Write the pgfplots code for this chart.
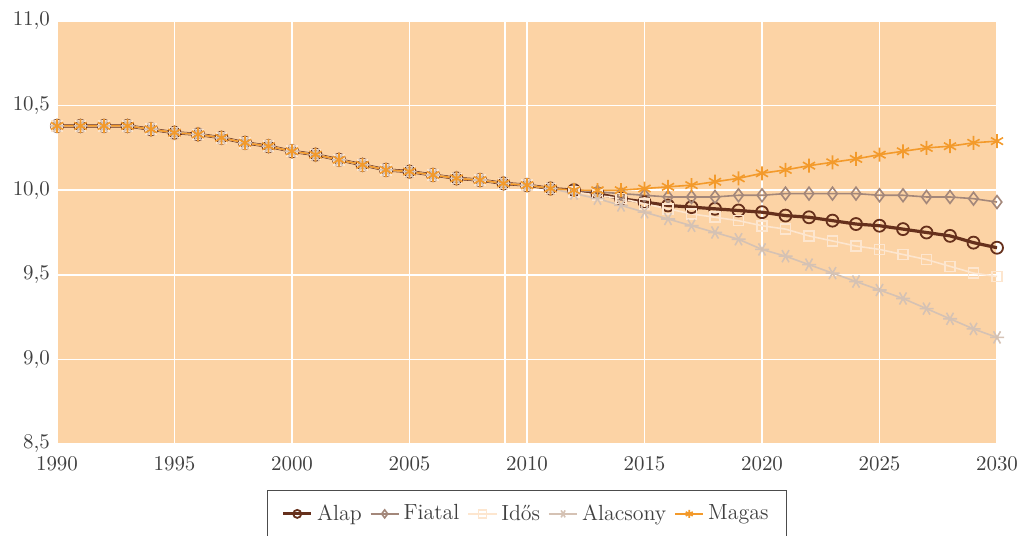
\documentclass[border=0pt]{standalone}
\usepackage{fontspec}
\usepackage{pgfplots}
\usepackage{pgfplotstable}
\pgfplotsset{compat=1.18}

\definecolor{bgfill}{HTML}{FCD3A5}
\definecolor{alapc}{HTML}{66301C}
\definecolor{fiatalc}{HTML}{A3877A}
\definecolor{idosc}{HTML}{FDE6CF}
\definecolor{alacsc}{HTML}{D5C2B4}
\definecolor{magasc}{HTML}{F39A2B}
\definecolor{txt}{HTML}{404040}

% year, then the five scenarios (identical up to 2011)
\pgfplotstableread{
year alap fiatal idos alacsony magas
1990 10.38 10.38 10.38 10.38 10.38
1991 10.38 10.38 10.38 10.38 10.38
1992 10.38 10.38 10.38 10.38 10.38
1993 10.38 10.38 10.38 10.38 10.38
1994 10.36 10.36 10.36 10.36 10.36
1995 10.34 10.34 10.34 10.34 10.34
1996 10.33 10.33 10.33 10.33 10.33
1997 10.31 10.31 10.31 10.31 10.31
1998 10.28 10.28 10.28 10.28 10.28
1999 10.26 10.26 10.26 10.26 10.26
2000 10.23 10.23 10.23 10.23 10.23
2001 10.21 10.21 10.21 10.21 10.21
2002 10.18 10.18 10.18 10.18 10.18
2003 10.15 10.15 10.15 10.15 10.15
2004 10.12 10.12 10.12 10.12 10.12
2005 10.11 10.11 10.11 10.11 10.11
2006 10.09 10.09 10.09 10.09 10.09
2007 10.07 10.07 10.07 10.07 10.07
2008 10.06 10.06 10.06 10.06 10.06
2009 10.04 10.04 10.04 10.04 10.04
2010 10.03 10.03 10.03 10.03 10.03
2011 10.01 10.01 10.01 10.01 10.01
2012 10.00 10.00 9.99 9.98 10.00
2013 9.98 9.99 9.97 9.95 10.00
2014 9.95 9.98 9.95 9.91 10.00
2015 9.93 9.97 9.92 9.87 10.01
2016 9.91 9.96 9.89 9.83 10.02
2017 9.90 9.96 9.86 9.79 10.03
2018 9.89 9.96 9.84 9.75 10.05
2019 9.88 9.97 9.82 9.71 10.07
2020 9.87 9.97 9.79 9.65 10.10
2021 9.85 9.98 9.77 9.61 10.12
2022 9.84 9.98 9.73 9.56 10.145
2023 9.82 9.98 9.70 9.51 10.165
2024 9.80 9.98 9.67 9.46 10.185
2025 9.79 9.97 9.65 9.41 10.21
2026 9.77 9.97 9.62 9.36 10.23
2027 9.75 9.96 9.59 9.30 10.25
2028 9.73 9.96 9.55 9.24 10.26
2029 9.69 9.95 9.51 9.18 10.28
2030 9.66 9.93 9.49 9.13 10.29
}\data

\begin{document}
\begin{tikzpicture}
\useasboundingbox (-28.5bp,-46bp) rectangle (482.5bp,222bp);
\begin{axis}[
  at={(0,0)}, anchor=south west,
  scale only axis, width=470bp, height=211.5bp,
  xmin=1990, xmax=2030, ymin=8.5, ymax=11,
  axis background/.style={fill=bgfill},
  axis line style={draw=none},
  tick style={draw=none},
  xtick={1990,1995,2000,2005,2010,2015,2020,2025,2030},
  ytick={8.5,9,9.5,10,10.5,11},
  grid=major, major grid style={white, line width=0.8bp},
  tick label style={font=\fontsize{10.5}{12}\selectfont, text=txt},
  xticklabel style={/pgf/number format/set thousands separator={}, yshift=-3bp},
  yticklabel style={/pgf/number format/.cd, fixed, fixed zerofill, precision=1, use comma},
  /pgf/number format/assume math mode=true,
  legend columns=5,
  legend style={at={(0.5,-0.1087)}, anchor=north, draw=black!70, line width=0.6bp,
    font=\fontsize{11}{13}\selectfont, text=txt, inner ysep=5bp, inner xsep=7bp,
    /tikz/every even column/.append style={column sep=2bp}},
  legend image code/.code={\draw[mark repeat=2,mark phase=2, mark size=2bp] plot coordinates {(0cm,0cm)(0.25cm,0cm)(0.5cm,0cm)};},
]
\addplot[alapc, line width=1.6bp, mark=o, mark size=3bp, mark options={line width=0.9bp, solid}]
  table[x=year, y=alap] {\data};
\addlegendentry{Alap}
\addplot[fiatalc, line width=0.8bp, mark=diamond, mark size=3.2bp, mark options={line width=0.8bp}]
  table[x=year, y=fiatal] {\data};
\addlegendentry{Fiatal}
\addplot[idosc, line width=0.8bp, mark=square, mark size=2.5bp, mark options={line width=0.8bp}]
  table[x=year, y=idos] {\data};
\addlegendentry{Idős}
\addplot[alacsc, line width=0.8bp, mark=asterisk, mark size=3.5bp, mark options={line width=0.8bp, rotate=90}]
  table[x=year, y=alacsony] {\data};
\addlegendentry{Alacsony}
\addplot[magasc, line width=0.8bp, mark=asterisk, mark size=3.5bp, mark options={line width=0.8bp}]
  table[x=year, y=magas] {\data};
\addlegendentry{Magas}
\draw[white, line width=1.2bp] (axis cs:2009.06,8.5) -- (axis cs:2009.06,11);
\end{axis}
\end{tikzpicture}
\end{document}
